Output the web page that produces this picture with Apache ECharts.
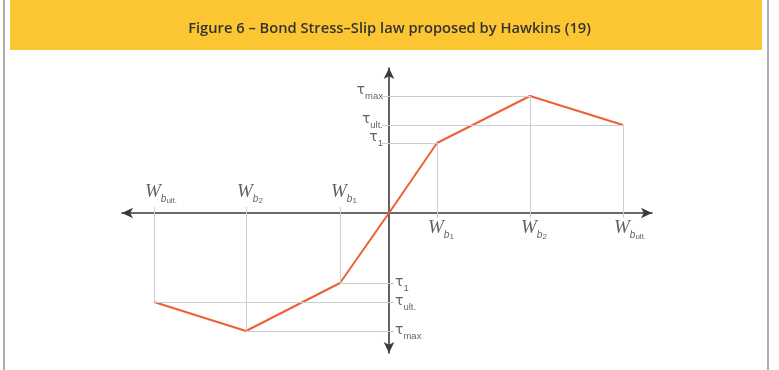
<!DOCTYPE html>
<html><head><meta charset="utf-8">
<script src="https://cdn.jsdelivr.net/npm/echarts@6/dist/echarts.min.js"></script>
<style>html,body{margin:0;padding:0;background:#fff}#c{width:779px;height:370px}</style>
</head><body><div id="c"></div>
<script>
// ---- data (slip and bond stress, in drawing units) ----
const titleText = 'Figure 6 – Bond Stress–Slip law proposed by Hawkins (19)';
const slip   = [-235, -143, -49, 0, 48, 141, 234];
const stress = [-89, -118, -70, 0, 70, 117, 88];
const slipSub   = ['ult.', '2', '1', '', '1', '2', 'ult.'];
const stressSub = ['ult.', 'max', '1', '', '1', 'max', 'ult.'];

const AXIS = '#3a3a3a', GUIDE = '#c9cfd3', CURVE = '#ef5f33';
const keyIdx = [0, 1, 2, 4, 5, 6];

const curve = slip.map((x, i) => [x, stress[i]]);

// guide lines from axes to each key point (with short tick past the axis)
const guides = [];
keyIdx.forEach(i => {
  const x = slip[i], y = stress[i];
  const tv = x > 0 ? -5 : 6;
  const th = x > 0 ? -7 : 5;
  guides.push([{coord: [x, tv]}, {coord: [x, y]}]);
  guides.push([{coord: [th, y]}, {coord: [x, y]}]);
});

const wRich = {
  w: {fontFamily: 'Liberation Serif', fontStyle: 'italic', fontSize: 19, color: '#3a3a3a', verticalAlign: 'top'},
  b: {fontFamily: 'Liberation Sans', fontStyle: 'italic', fontSize: 10, color: '#3a3a3a', verticalAlign: 'top', padding: [12, 0, 0, 0]},
  n: {fontFamily: 'Liberation Sans', fontSize: 8, color: '#3a3a3a', verticalAlign: 'top', padding: [15, 0, 0, 0]}
};
const tRich = {
  t: {fontFamily: 'DejaVu Sans', fontSize: 14, color: '#3a3a3a', verticalAlign: 'top'},
  s: {fontFamily: 'Liberation Sans', fontSize: 9.5, color: '#3a3a3a', verticalAlign: 'top', padding: [8, 0, 0, 0]}
};

const slipLabelData = keyIdx.map(i => ({
  value: [slip[i], 0],
  label: {position: slip[i] > 0 ? [-9, 5] : [-9, -31]},
  sub: slipSub[i]
}));
const stressLabelData = keyIdx.map(i => ({
  value: [0, stress[i]],
  label: stress[i] > 0 ? {position: [-6, -13], align: 'right'} : {position: [6, -8], align: 'left'},
  sub: stressSub[i]
}));

const chart = echarts.init(document.getElementById('c'), null, {renderer: 'canvas'});
const hiddenAxis = {
  type: 'value',
  axisTick: {show: false}, axisLabel: {show: false}, splitLine: {show: false},
  axisLine: {show: true, onZero: true, symbol: ['arrow', 'arrow'], symbolSize: [8, 11],
             lineStyle: {color: AXIS, width: 1.6}}
};
chart.setOption({
  animation: false,
  backgroundColor: '#fff',
  title: {
    text: titleText, left: 'center', top: 16,
    textStyle: {fontFamily: 'Open Sans', fontWeight: 600, fontSize: 14.7, color: '#333'}
  },
  graphic: [
    {type: 'rect', z: -10, shape: {x: 10, y: 0, width: 752, height: 50}, style: {fill: '#fcc532'}},
    {type: 'line', shape: {x1: 4, y1: 0, x2: 4, y2: 370}, style: {stroke: '#9a9a9a', lineWidth: 1.6}},
    {type: 'line', shape: {x1: 768, y1: 0, x2: 768, y2: 370}, style: {stroke: '#9a9a9a', lineWidth: 1.6}}
  ],
  grid: {left: 122, right: 127, top: 68, bottom: 17},
  xAxis: Object.assign({min: -267, max: 263}, hiddenAxis),
  yAxis: Object.assign({min: -140, max: 145}, hiddenAxis),
  series: [
    {
      type: 'line', data: [], silent: true, z: 1,
      markLine: {silent: true, symbol: ['none', 'none'], label: {show: false},
                 lineStyle: {color: GUIDE, width: 1, type: 'solid'}, data: guides}
    },
    {
      type: 'line', data: curve, symbol: 'none', z: 3,
      lineStyle: {color: CURVE, width: 2}
    },
    {
      type: 'scatter', symbolSize: 0, z: 4, data: slipLabelData,
      label: {show: true, align: 'left', verticalAlign: 'top', rich: wRich,
              formatter: p => '{w|W}{b|b}{n|' + p.data.sub + '}'}
    },
    {
      type: 'scatter', symbolSize: 0, z: 4, data: stressLabelData,
      label: {show: true, verticalAlign: 'top', rich: tRich,
              formatter: p => '{t|τ}{s|' + p.data.sub + '}'}
    }
  ]
});
</script></body></html>
